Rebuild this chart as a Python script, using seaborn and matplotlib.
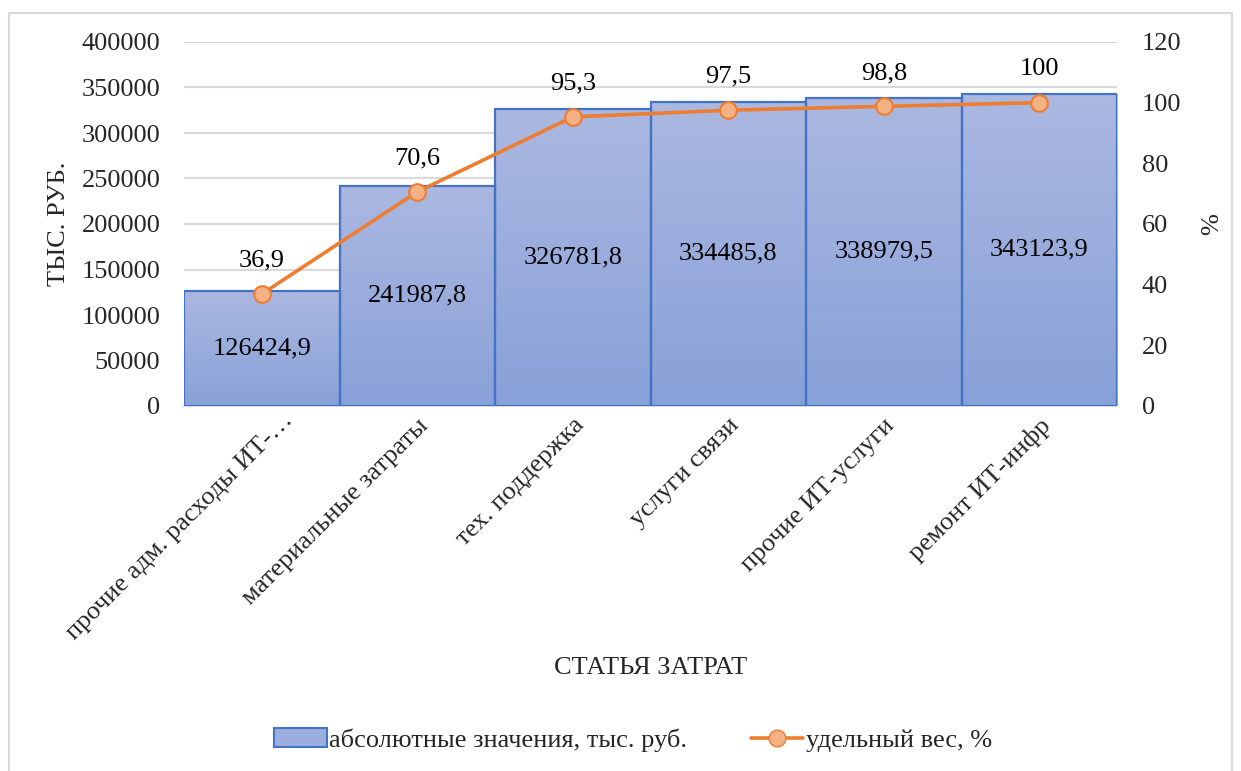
import numpy as np
import pandas as pd
import matplotlib
matplotlib.use("Agg")
import matplotlib.pyplot as plt
import matplotlib.transforms as mtransforms
from matplotlib.patches import Patch, Rectangle
from matplotlib.lines import Line2D
import seaborn as sns

# Cost items and their cumulative totals
categories = [
    "прочие адм. расходы ИТ-…",
    "материальные затраты",
    "тех. поддержка",
    "услуги связи",
    "прочие ИТ-услуги",
    "ремонт ИТ-инфр",
]
absolute_values = [126424.9, 241987.8, 326781.8, 334485.8, 338979.5, 343123.9]
share_pct = [36.9, 70.6, 95.3, 97.5, 98.8, 100.0]

left_ticks = [0, 50000, 100000, 150000, 200000, 250000, 300000, 350000, 400000]
right_ticks = [0, 20, 40, 60, 80, 100, 120]


def fmt_ru(v):
    s = f"{v:.1f}".rstrip("0").rstrip(".")
    return s.replace(".", ",")


sns.set_theme(style="white")
plt.rcParams["font.family"] = ["Liberation Serif", "DejaVu Serif"]

BAR_EDGE = "#4472C4"
LINE = "#ED7D31"
MARKER_FACE = "#F4B183"
GRID = "#D9D9D9"
FS = 19

fig = plt.figure(figsize=(12.41, 7.71), dpi=100)
ax = fig.add_axes([184 / 1241, 1 - 406 / 771, (1117 - 184) / 1241, (406 - 42) / 771])

df = pd.DataFrame({"cat": categories, "val": absolute_values})
sns.barplot(data=df, x="cat", y="val", ax=ax, width=1.0, color="#9BAEDD",
            edgecolor=BAR_EDGE, linewidth=1.6, saturation=1, zorder=3)

ax.set_ylim(0, 400000)
ax.set_xlim(-0.5, len(categories) - 0.5)

# vertical gradient fill inside each bar
grad_top = np.array([171, 184, 225]) / 255
grad_bot = np.array([136, 161, 216]) / 255
t = np.linspace(0, 1, 256)[:, None]
grad = (grad_top[None, :] * (1 - t) + grad_bot[None, :] * t)[:, None, :]
for p in ax.patches:
    x0, y0 = p.get_x(), p.get_y()
    w, h = p.get_width(), p.get_height()
    im = ax.imshow(grad, extent=[x0, x0 + w, y0, y0 + h], aspect="auto",
                   origin="upper", zorder=2, interpolation="bilinear")
    im.set_clip_path(p)
    p.set_facecolor("none")
ax.set_ylim(0, 400000)
ax.set_xlim(-0.5, len(categories) - 0.5)

ax.set_yticks(left_ticks)
ax.set_yticklabels([str(v) for v in left_ticks], fontsize=FS)
ax.yaxis.grid(True, color=GRID, linewidth=1.5, zorder=0)
ax.set_axisbelow(True)
for side in ["top", "right", "left"]:
    ax.spines[side].set_visible(False)
ax.spines["bottom"].set_color(GRID)
ax.spines["bottom"].set_linewidth(1.5)
ax.tick_params(axis="y", length=0, pad=17)

ax.set_xticks(range(len(categories)))
ax.set_xticklabels(categories, rotation=45, ha="right", va="top",
                   rotation_mode="anchor", fontsize=FS)
ax.tick_params(axis="x", length=0, pad=6)
# the truncated first label sits a little further right
first = ax.get_xticklabels()[0]
first.set_transform(first.get_transform() +
                    mtransforms.ScaledTranslation(20 / 100, 5 / 100, fig.dpi_scale_trans))
ax.set_xlabel("СТАТЬЯ ЗАТРАТ", fontsize=FS, labelpad=9)
ax.set_ylabel("ТЫС. РУБ.", fontsize=FS, labelpad=8)

for i, v in enumerate(absolute_values):
    ax.text(i, v / 2, fmt_ru(v), ha="center", va="center", fontsize=FS,
            color="black", zorder=6)

# cumulative share on the secondary axis
ax2 = ax.twinx()
sns.lineplot(x=list(range(len(categories))), y=share_pct, ax=ax2, color=LINE,
             linewidth=2.6, marker="o", markersize=12,
             markerfacecolor=MARKER_FACE, markeredgecolor=LINE,
             markeredgewidth=1.5, zorder=5)
ax2.set_ylim(0, 120)
ax2.set_yticks(right_ticks)
ax2.set_yticklabels([str(v) for v in right_ticks], fontsize=FS)
ax2.tick_params(axis="y", length=0, pad=18)
ax2.set_ylabel("%", fontsize=FS, labelpad=14)
for s in ax2.spines.values():
    s.set_visible(False)
ax2.grid(False)

for i, v in enumerate(share_pct):
    ax2.annotate(fmt_ru(v), (i, v), xytext=(0, 24), textcoords="offset points",
                 ha="center", va="center", fontsize=FS, color="black")

handles = [
    Patch(facecolor="#9BAEDD", edgecolor=BAR_EDGE, linewidth=1.5),
    Line2D([0], [0], color=LINE, linewidth=2.6, marker="o", markersize=12,
           markerfacecolor=MARKER_FACE, markeredgecolor=LINE),
]
fig.legend(handles, ["абсолютные значения, тыс. руб.", "удельный вес, %"],
           loc="center", bbox_to_anchor=(0.51, 1 - 740 / 771), ncol=2,
           frameon=False, fontsize=FS, handlelength=2.0, columnspacing=2.4,
           handletextpad=0.1)

# chart area frame
fig.patches.append(Rectangle((9 / 1241, -0.02), (1232 - 9) / 1241, 1.02 - 13 / 771,
                             transform=fig.transFigure, fill=False,
                             edgecolor="#D9D9D9", linewidth=1.5))

fig.savefig("out.png", dpi=100, facecolor="white")
